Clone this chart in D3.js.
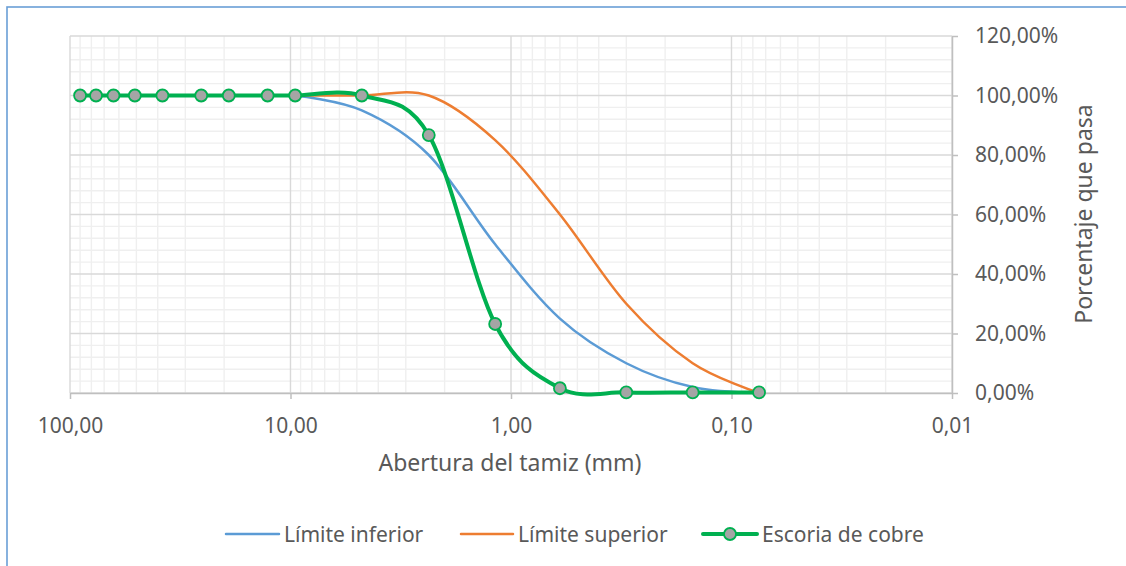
<!DOCTYPE html>
<html>
<head>
<meta charset="utf-8">
<script src="https://cdn.jsdelivr.net/npm/d3@7"></script>
<style>
  html, body { margin: 0; padding: 0; background: #fff; }
  svg { display: block; font-family: "Noto Sans", sans-serif; }
</style>
</head>
<body>
<svg id="chart" width="1126" height="566"></svg>
<script>
// ---- Data ----
const seriesNames = ["Límite inferior", "Límite superior", "Escoria de cobre"];
const limitSizes = [9.525, 4.75, 2.36, 1.18, 0.6, 0.3, 0.15, 0.075];
const lowerLimit = [100, 95, 80, 50, 25, 10, 2, 0];
const upperLimit = [100, 100, 100, 85, 60, 30, 10, 0];
const slagSizes = [90, 76.2, 63.5, 50.8, 38.1, 25.4, 19.05, 12.7, 9.525, 4.75, 2.36, 1.18, 0.6, 0.3, 0.15, 0.075];
const slagPassing = [100, 100, 100, 100, 100, 100, 100, 100, 100, 100, 86.7, 23.2, 1.6, 0.2, 0.2, 0.2];
const xTickValues = [100, 10, 1, 0.1, 0.01];
const yTickValues = [0, 20, 40, 60, 80, 100, 120];
const xTitle = "Abertura del tamiz (mm)";
const yTitle = "Porcentaje que pasa";

// ---- Setup ----
const colors = ["#5b9bd5", "#ed7d31", "#00b050"];
const textColor = "#595959";
const locale = d3.formatLocale({decimal: ",", thousands: ".", grouping: [3], currency: ["", "€"]});
const fmt2 = locale.format(".2f");

const svg = d3.select("#chart");
const pL = 70, pR = 952, pT = 36, pB = 393;

const x = d3.scaleLog().domain([100, 0.01]).range([pL, pR]);
const y = d3.scaleLinear().domain([0, 120]).range([pB, pT]);

// outer frame
svg.append("rect")
  .attr("x", 7).attr("y", 7).attr("width", 1140).attr("height", 580)
  .attr("fill", "none").attr("stroke", "#6a9fd6").attr("stroke-width", 1.6);

// ---- Grid ----
const grid = svg.append("g");
const minorX = [];
[-2, -1, 0, 1].forEach(e => { for (let k = 2; k <= 9; k++) minorX.push(k * Math.pow(10, e)); });
const minorY = d3.range(0, 121, 4).filter(v => v % 20 !== 0);

grid.selectAll(".mx").data(minorX).join("line")
  .attr("x1", d => x(d)).attr("x2", d => x(d)).attr("y1", pT).attr("y2", pB)
  .attr("stroke", "#efefef").attr("stroke-width", 1.4);
grid.selectAll(".my").data(minorY).join("line")
  .attr("x1", pL).attr("x2", pR).attr("y1", d => y(d)).attr("y2", d => y(d))
  .attr("stroke", "#efefef").attr("stroke-width", 1.4);
grid.selectAll(".Mx").data(xTickValues).join("line")
  .attr("x1", d => x(d)).attr("x2", d => x(d)).attr("y1", pT).attr("y2", pB)
  .attr("stroke", "#d9d9d9").attr("stroke-width", 1.4);
grid.selectAll(".My").data(yTickValues).join("line")
  .attr("x1", pL).attr("x2", pR).attr("y1", d => y(d)).attr("y2", d => y(d))
  .attr("stroke", "#d9d9d9").attr("stroke-width", 1.4);

// ---- Axes ----
const xAxis = d3.axisBottom(x).tickValues(xTickValues).tickFormat(d => fmt2(d))
  .tickSizeInner(6).tickSizeOuter(0).tickPadding(19);
const gx = svg.append("g").attr("transform", `translate(0,${pB})`).call(xAxis);

const yAxis = d3.axisRight(y).tickValues(yTickValues).tickFormat(d => fmt2(d) + "%")
  .tickSizeInner(6).tickSizeOuter(0).tickPadding(17);
const gy = svg.append("g").attr("transform", `translate(${pR},0)`).call(yAxis);

[gx, gy].forEach(g => {
  g.select(".domain").attr("stroke", "#bfbfbf").attr("stroke-width", 1.5);
  g.selectAll(".tick line").attr("stroke", "#bfbfbf").attr("stroke-width", 1.5);
  g.selectAll(".tick text").attr("fill", textColor).attr("font-size", 21)
    .attr("font-family", "Noto Sans, sans-serif");
});

// titles
svg.append("text").attr("x", 510).attr("y", 471).attr("text-anchor", "middle")
  .attr("font-size", 23).attr("fill", textColor).text(xTitle);
svg.append("text").attr("transform", "translate(1092,214) rotate(-90)")
  .attr("text-anchor", "middle").attr("font-size", 23).attr("fill", textColor).text(yTitle);

// ---- Lines ----
const line = d3.line().x(d => x(d[0])).y(d => y(d[1])).curve(d3.curveCatmullRom.alpha(0));
const lowerData = limitSizes.map((s, i) => [s, lowerLimit[i]]);
const upperData = limitSizes.map((s, i) => [s, upperLimit[i]]);
const slagData = slagSizes.map((s, i) => [s, slagPassing[i]]);

svg.append("path").datum(lowerData).attr("d", line)
  .attr("fill", "none").attr("stroke", colors[0]).attr("stroke-width", 2.5);
svg.append("path").datum(upperData).attr("d", line)
  .attr("fill", "none").attr("stroke", colors[1]).attr("stroke-width", 2.5);
svg.append("path").datum(slagData).attr("d", line)
  .attr("fill", "none").attr("stroke", colors[2]).attr("stroke-width", 4).attr("stroke-linecap", "round");
svg.selectAll(".pt").data(slagData).join("circle")
  .attr("cx", d => x(d[0])).attr("cy", d => y(d[1])).attr("r", 6)
  .attr("fill", "#a5a5a5").attr("stroke", colors[2]).attr("stroke-width", 1.8);

// ---- Legend ----
const legendItems = [
  {name: seriesNames[0], x1: 226, x2: 279, tx: 284, color: colors[0], w: 2.5, marker: false},
  {name: seriesNames[1], x1: 461, x2: 513, tx: 518, color: colors[1], w: 2.5, marker: false},
  {name: seriesNames[2], x1: 703, x2: 757, tx: 762, color: colors[2], w: 4, marker: true}
];
const ly = 534;
const lg = svg.append("g");
legendItems.forEach(it => {
  lg.append("line").attr("x1", it.x1).attr("x2", it.x2).attr("y1", ly).attr("y2", ly)
    .attr("stroke", it.color).attr("stroke-width", it.w).attr("stroke-linecap", "round");
  if (it.marker) {
    lg.append("circle").attr("cx", (it.x1 + it.x2) / 2).attr("cy", ly).attr("r", 6)
      .attr("fill", "#a5a5a5").attr("stroke", it.color).attr("stroke-width", 1.8);
  }
  lg.append("text").attr("x", it.tx).attr("y", ly + 8).attr("font-size", 21)
    .attr("fill", textColor).text(it.name);
});
</script>
</body>
</html>
